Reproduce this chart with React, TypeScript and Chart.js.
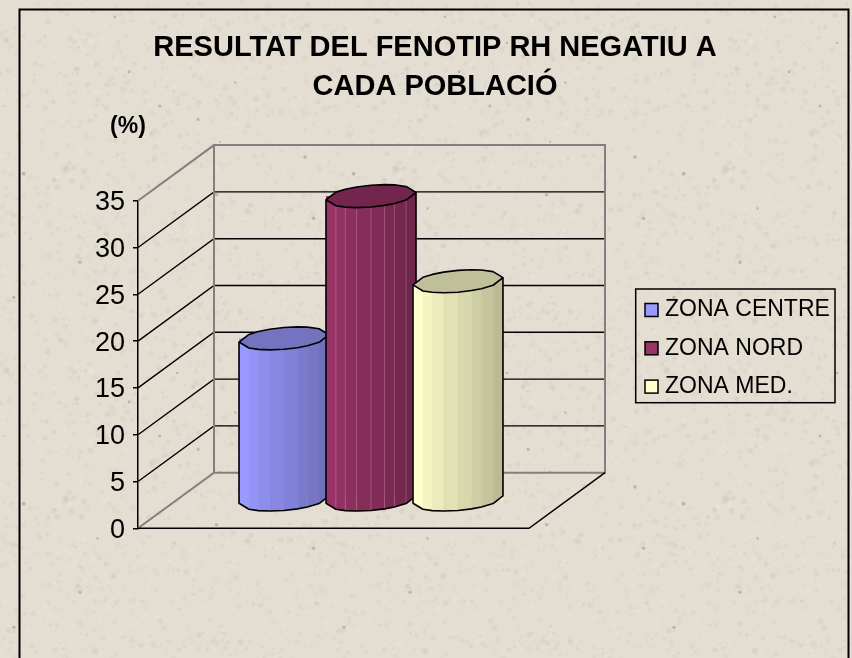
import React, { useEffect, useRef } from "react";
import { Chart, registerables } from "chart.js";

Chart.register(...registerables);

const categories = ["Població"];
const seriesNames = ["ZONA CENTRE", "ZONA NORD", "ZONA MED."];
const zonaCentre = [17.3];
const zonaNord = [32.5];
const zonaMed = [23.4];
const seriesColors = ["#9999FF", "#993366", "#FFFFCC"];
const seamAlpha = [0.05, 0.22, 0.05];
const titleLines = ["RESULTAT DEL FENOTIP RH NEGATIU A", "CADA POBLACIÓ"];
const yUnit = "(%)";
const yMax = 35;
const yStep = 5;

const FONT = "'Liberation Sans', Arial, sans-serif";
const DEPTH_X = 76;
const DEPTH_Y = -55.6;
const BAR_DX = 37.5;
const BAR_DY = -28;
const FACETS = [-1, -0.78, -0.57, -0.32, 0, 0.3, 0.52, 0.78, 1];

function shade(hex: string, k: number) {
  const n = parseInt(hex.slice(1), 16);
  const r = Math.round(((n >> 16) & 255) * k);
  const g = Math.round(((n >> 8) & 255) * k);
  const b = Math.round((n & 255) * k);
  return `rgb(${r},${g},${b})`;
}

function makeTexture() {
  const c = document.createElement("canvas");
  c.width = 330;
  c.height = 330;
  const g = c.getContext("2d")!;
  g.fillStyle = "#E3DDD2";
  g.fillRect(0, 0, 330, 330);
  let s = 12345;
  const next = () => {
    s = (s * 1103515245 + 12345) & 0x7fffffff;
    return s / 0x7fffffff;
  };
  for (let i = 0; i < 1800; i++) {
    const x = next() * 330;
    const y = next() * 330;
    const r = 0.8 + next() * 2.2;
    const dark = next() > 0.45;
    g.fillStyle = dark ? `rgba(170,160,145,${0.03 + next() * 0.1})` : `rgba(240,235,228,${0.08 + next() * 0.2})`;
    g.beginPath();
    g.arc(x, y, r, 0, Math.PI * 2);
    g.fill();
  }
  for (let i = 0; i < 14; i++) {
    const x = next() * 330;
    const y = next() * 330;
    g.fillStyle = "rgba(130,122,110,0.4)";
    g.beginPath();
    g.arc(x, y, 1 + next() * 0.9, 0, Math.PI * 2);
    g.fill();
  }
  return c;
}

const placementPlugin = {
  id: "placement",
  afterLayout(chart: any) {
    const t = chart.titleBlock;
    if (t) {
      t.left = 0;
      t.right = 870;
    }
    const l = chart.legend;
    if (l) {
      l.left = 629.7;
      l.right = 836;
      l.top = 283.2;
      l.bottom = 450;
      l.width = l.right - l.left;
      l.height = l.bottom - l.top;
    }
  },
};

const backdropPlugin = {
  id: "backdrop",
  beforeDraw(chart: any) {
    const { ctx, width, height } = chart;
    ctx.save();
    ctx.fillStyle = ctx.createPattern(makeTexture(), "repeat");
    ctx.fillRect(0, 0, width, height);
    ctx.strokeStyle = "#000";
    ctx.lineWidth = 2;
    ctx.strokeRect(19.5, 9.5, 829, 800);
    ctx.restore();
  },
};

const wallsPlugin = {
  id: "walls",
  beforeDatasetsDraw(chart: any) {
    const { ctx, chartArea } = chart;
    const y = chart.scales.y;
    const x0 = chartArea.left;
    const x1 = chartArea.right;
    const yTop = y.getPixelForValue(yMax);
    const yZero = y.getPixelForValue(0);
    const line = (pts: number[][], color: string, w: number) => {
      ctx.strokeStyle = color;
      ctx.lineWidth = w;
      ctx.beginPath();
      pts.forEach((p, i) => (i ? ctx.lineTo(p[0], p[1]) : ctx.moveTo(p[0], p[1])));
      ctx.stroke();
    };
    ctx.save();
    for (let v = yStep; v < yMax; v += yStep) {
      const p = y.getPixelForValue(v);
      line(
        [
          [x0, p],
          [x0 + DEPTH_X, p + DEPTH_Y],
          [x1 + DEPTH_X, p + DEPTH_Y],
        ],
        "#000",
        1.4,
      );
    }
    line(
      [
        [x0, yZero],
        [x0 + DEPTH_X, yZero + DEPTH_Y],
        [x1 + DEPTH_X, yZero + DEPTH_Y],
        [x1 + DEPTH_X, yTop + DEPTH_Y],
        [x0 + DEPTH_X, yTop + DEPTH_Y],
        [x0 + DEPTH_X, yZero + DEPTH_Y],
      ],
      "#808080",
      2,
    );
    line(
      [
        [x0, yTop],
        [x0 + DEPTH_X, yTop + DEPTH_Y],
      ],
      "#808080",
      2,
    );
    line(
      [
        [x0, yZero],
        [x1, yZero],
        [x1 + DEPTH_X, yZero + DEPTH_Y],
      ],
      "#000",
      1.5,
    );
    ctx.fillStyle = "#000";
    ctx.font = `bold 23px ${FONT}`;
    ctx.textAlign = "center";
    ctx.textBaseline = "middle";
    ctx.fillText(yUnit, 128, 127);
    ctx.restore();
  },
};

function drawCylinder(ctx: any, bar: any, color: string, seam: number) {
  const A = bar.width / 2;
  const B = 10.9;
  const C = -3.65;
  const cx = bar.x;
  const low = (f: number, cy: number) => cy + B * Math.sqrt(1 - f * f) + C * f;
  const up = (f: number, cy: number) => cy - B * Math.sqrt(1 - f * f) + C * f;
  for (let i = 0; i < FACETS.length - 1; i++) {
    const a = FACETS[i];
    const b = FACETS[i + 1];
    const c = shade(color, 1 - (0.27 * i) / (FACETS.length - 2));
    ctx.fillStyle = c;
    ctx.strokeStyle = c;
    ctx.lineWidth = 0.5;
    ctx.beginPath();
    ctx.moveTo(cx + A * a, low(a, bar.y));
    ctx.lineTo(cx + A * b, low(b, bar.y));
    ctx.lineTo(cx + A * b, low(b, bar.base));
    ctx.lineTo(cx + A * a, low(a, bar.base));
    ctx.closePath();
    ctx.fill();
    ctx.stroke();
  }
  ctx.strokeStyle = `rgba(255,255,255,${seam})`;
  ctx.lineWidth = 1;
  FACETS.slice(1, -1).forEach((f) => {
    ctx.beginPath();
    ctx.moveTo(cx + A * f, low(f, bar.y));
    ctx.lineTo(cx + A * f, low(f, bar.base));
    ctx.stroke();
  });
  ctx.strokeStyle = "#000";
  ctx.lineWidth = 1.6;
  ctx.lineJoin = "round";
  ctx.beginPath();
  ctx.moveTo(cx - A, low(-1, bar.y));
  FACETS.forEach((f) => ctx.lineTo(cx + A * f, low(f, bar.base)));
  ctx.lineTo(cx + A, low(1, bar.y));
  ctx.stroke();
  ctx.fillStyle = shade(color, 0.75);
  ctx.beginPath();
  FACETS.forEach((f, i) => {
    const px = cx + A * f;
    if (i) ctx.lineTo(px, low(f, bar.y));
    else ctx.moveTo(px, low(f, bar.y));
  });
  [...FACETS].reverse().forEach((f) => ctx.lineTo(cx + A * f, up(f, bar.y)));
  ctx.closePath();
  ctx.fill();
  ctx.stroke();
}

const cylinderPlugin = {
  id: "cylinder",
  beforeDatasetDraw(chart: any) {
    chart.ctx.save();
    chart.ctx.translate(BAR_DX, BAR_DY);
  },
  afterDatasetDraw(chart: any) {
    chart.ctx.restore();
  },
  afterDatasetsDraw(chart: any) {
    const { ctx } = chart;
    ctx.save();
    ctx.translate(BAR_DX, BAR_DY);
    seriesColors.forEach((color, i) => {
      drawCylinder(ctx, chart.getDatasetMeta(i).data[0], color, seamAlpha[i]);
    });
    ctx.restore();
  },
};

const legendFramePlugin = {
  id: "legendFrame",
  afterDraw(chart: any) {
    const { ctx, legend } = chart;
    ctx.save();
    ctx.strokeStyle = "#000";
    ctx.lineWidth = 1.5;
    ctx.strokeRect(635.7, 289, 199.3, 113.7);
    legend.legendHitBoxes.forEach((h: any, i: number) => {
      ctx.fillStyle = seriesColors[i];
      ctx.fillRect(645, h.top + h.height / 2 - 6.5, 13, 13);
      ctx.strokeRect(645, h.top + h.height / 2 - 6.5, 13, 13);
    });
    ctx.restore();
  },
};

export default function App() {
  const ref = useRef<HTMLCanvasElement>(null);
  useEffect(() => {
    const chart = new Chart(ref.current!, {
      type: "bar",
      data: {
        labels: categories,
        datasets: [zonaCentre, zonaNord, zonaMed].map((d, i) => ({
          label: seriesNames[i],
          data: d,
          backgroundColor: seriesColors[i],
          borderWidth: 0,
          clip: false,
          categoryPercentage: 0.6675,
          barPercentage: 1.034,
        })),
      } as any,
      options: {
        responsive: false,
        animation: false,
        layout: { padding: { left: 0, top: 0, right: 323, bottom: 129.7 } },
        plugins: {
          tooltip: { enabled: false },
          title: {
            display: true,
            text: titleLines,
            color: "#000",
            font: { family: FONT, size: 29, weight: "bold", lineHeight: 1.35 },
            padding: { top: 28.4, bottom: 94 },
          },
          legend: {
            position: "chartArea",
            align: "start",
            labels: {
              boxWidth: 8.5,
              boxHeight: 8.5,
              padding: 15.3,
              color: "#000",
              font: { family: FONT, size: 23 },
            },
          },
        },
        scales: {
          x: { display: false, offset: true },
          y: {
            min: 0,
            max: yMax,
            afterFit(s: any) {
              s.width = 138;
            },
            ticks: {
              stepSize: yStep,
              color: "#000",
              padding: 8,
              labelOffset: 2,
              font: { family: FONT, size: 27 },
            },
            grid: { drawOnChartArea: false, color: "#000", lineWidth: 1.5, tickLength: 5 },
            border: { display: true, color: "#000", width: 1.5 },
          },
        },
      } as any,
      plugins: [placementPlugin, backdropPlugin, wallsPlugin, cylinderPlugin, legendFramePlugin],
    });
    return () => chart.destroy();
  }, []);
  return (
    <canvas
      ref={ref}
      width={852}
      height={658}
      style={{ position: "fixed", left: 0, top: 0, width: 852, height: 658, display: "block" }}
    />
  );
}
